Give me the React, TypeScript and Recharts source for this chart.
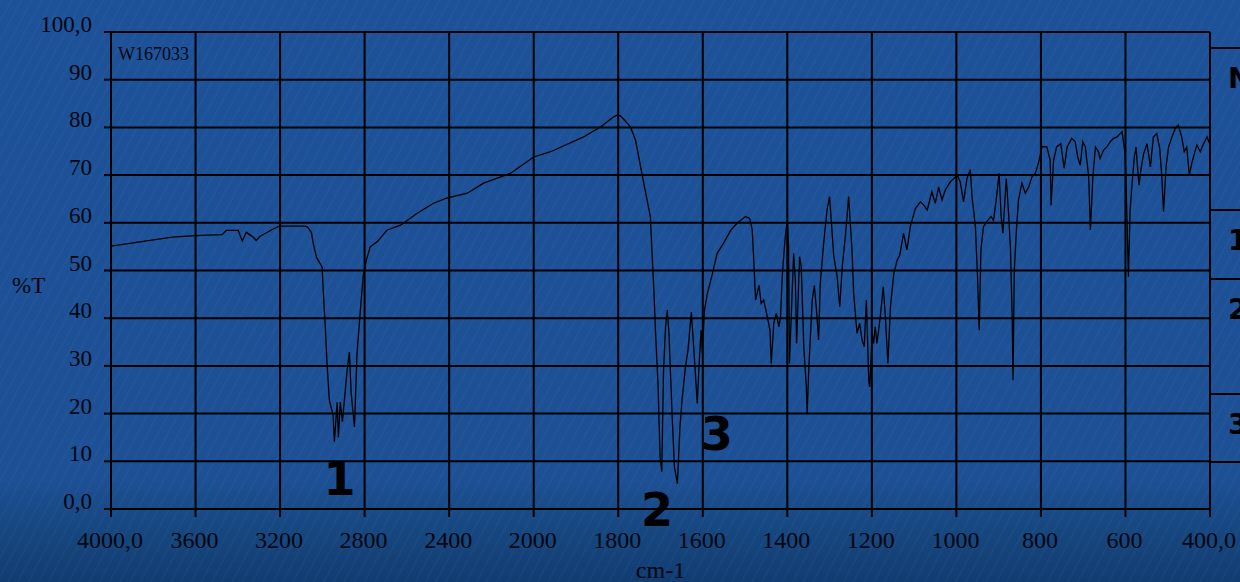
import { LineChart, Line, XAxis, YAxis, CartesianGrid, ReferenceDot } from 'recharts';

// IR spectrum W167033 (wavenumber in cm-1, %T)
const wavenumbers = [
  4000, 3863, 3711, 3602, 3474, 3455, 3398, 3379, 3360, 3327, 3313, 3294, 3237, 3204, 3081, 3070,
  3052, 3043, 3028, 3001, 2995, 2986, 2978, 2967, 2949, 2943, 2930, 2924, 2915, 2905, 2883, 2872,
  2864, 2848, 2836, 2820, 2807, 2792, 2773, 2741, 2693, 2630, 2551, 2474, 2409, 2314, 2237, 2109,
  2000, 1960, 1882, 1842, 1811, 1802, 1794, 1771, 1759, 1747, 1735, 1724, 1720, 1716, 1712, 1706,
  1701, 1697, 1693, 1688, 1684, 1680, 1676, 1672, 1667, 1660, 1654, 1649, 1641, 1635, 1627, 1621,
  1613, 1609, 1604, 1601, 1596, 1589, 1577, 1566, 1551, 1534, 1519, 1499, 1489, 1483, 1479, 1475,
  1467, 1462, 1456, 1449, 1441, 1438, 1432, 1426, 1420, 1416, 1412, 1408, 1404, 1400, 1397, 1395,
  1385, 1381, 1378, 1371, 1367, 1361, 1355, 1353, 1349, 1345, 1341, 1336, 1331, 1326, 1322, 1314,
  1306, 1300, 1290, 1282, 1276, 1270, 1262, 1255, 1247, 1243, 1239, 1235, 1229, 1223, 1218, 1213,
  1207, 1205, 1199, 1196, 1192, 1188, 1180, 1173, 1168, 1162, 1156, 1148, 1140, 1134, 1125, 1117,
  1109, 1097, 1085, 1077, 1069, 1058, 1050, 1042, 1034, 1026, 1014, 1006, 998, 991, 983, 975,
  967, 963, 955, 950, 946, 942, 936, 926, 918, 912, 904, 899, 894, 890, 882, 876,
  872, 868, 866, 863, 858, 853, 845, 837, 829, 821, 813, 806, 797, 786, 778, 776,
  770, 763, 753, 745, 738, 727, 719, 713, 707, 701, 695, 687, 683, 677, 671, 664,
  660, 652, 644, 636, 628, 620, 608, 601, 598, 595, 593, 589, 585, 579, 575, 571,
  568, 563, 557, 549, 541, 534, 526, 519, 514, 510, 504, 498, 490, 482, 475, 467,
  461, 455, 449, 443, 437, 431, 423, 415, 407, 401, 400,
];
const transmittance = [
  55.1, 56.0, 57.0, 57.3, 57.5, 58.4, 58.4, 56.2, 58.0, 57.0, 56.3, 57.2, 58.6, 59.3, 59.3, 59.1,
  58.0, 55.7, 52.8, 50.7, 45.2, 38.1, 30.6, 22.8, 19.7, 14.1, 22.4, 15.0, 22.4, 18.3, 29.0, 32.9,
  24.5, 17.2, 32.6, 41.7, 48.7, 52.2, 55.0, 56.0, 58.5, 59.5, 62.0, 64.1, 65.2, 66.2, 68.3, 70.4,
  73.8, 74.9, 78.0, 80.1, 82.2, 82.6, 82.4, 80.1, 77.3, 71.7, 66.2, 61.3, 53.6, 46.6, 37.5, 26.4,
  10.9, 7.8, 28.5, 38.2, 41.7, 36.8, 27.7, 18.6, 8.8, 5.3, 17.2, 22.8, 29.8, 33.3, 41.3, 33.3,
  22.1, 29.8, 37.5, 32.7, 41.7, 45.2, 49.4, 53.6, 55.7, 58.4, 59.9, 61.3, 60.9, 58.5, 51.5, 43.8,
  46.9, 43.1, 43.8, 41.0, 37.5, 30.5, 38.9, 41.0, 38.2, 40.3, 48.7, 53.6, 57.8, 60.5, 55.0, 30.5,
  53.6, 48.0, 34.7, 52.9, 50.8, 34.0, 25.6, 20.0, 29.8, 36.8, 43.8, 46.9, 41.7, 35.4, 47.3, 55.7,
  62.7, 65.5, 52.9, 48.7, 42.4, 50.8, 57.8, 65.5, 54.3, 45.2, 41.0, 36.8, 38.9, 35.4, 34.0, 43.8,
  26.4, 25.6, 36.8, 34.7, 38.2, 34.7, 40.3, 46.6, 40.3, 30.5, 42.4, 49.4, 52.2, 53.2, 57.8, 54.3,
  59.2, 63.0, 64.4, 63.7, 62.7, 66.5, 64.1, 67.5, 64.8, 66.9, 68.6, 69.3, 70.0, 68.6, 64.4, 69.3,
  71.1, 65.5, 59.2, 48.7, 37.5, 54.3, 59.2, 60.5, 61.3, 60.5, 66.2, 70.4, 61.3, 57.8, 69.3, 61.3,
  54.3, 40.3, 27.0, 50.0, 58.5, 64.8, 68.3, 66.2, 67.5, 69.7, 70.4, 72.5, 76.0, 75.9, 73.1, 63.7,
  73.1, 75.9, 76.6, 71.4, 75.9, 77.7, 77.0, 73.8, 72.1, 77.0, 75.9, 69.7, 58.5, 69.7, 75.9, 74.9,
  73.5, 75.2, 75.9, 77.0, 77.7, 78.0, 79.1, 74.5, 66.2, 55.7, 48.7, 62.7, 67.5, 73.8, 75.9, 71.1,
  67.9, 71.4, 74.5, 76.6, 71.7, 78.0, 78.7, 75.6, 69.7, 62.3, 71.7, 75.9, 78.0, 79.8, 80.5, 78.0,
  74.9, 75.9, 70.0, 72.5, 74.5, 76.3, 74.9, 76.6, 78.0, 76.6, 76.6,
];

const xTicks = [4000, 3600, 3200, 2800, 2400, 2000, 1800, 1600, 1400, 1200, 1000, 800, 600, 400];
const xTickLabels = ['4000,0', '3600', '3200', '2800', '2400', '2000', '1800', '1600', '1400', '1200', '1000', '800', '600', '400,0'];
const yTicks = [0, 10, 20, 30, 40, 50, 60, 70, 80, 90, 100];
const yTickLabels = ['0,0', '10', '20', '30', '40', '50', '60', '70', '80', '90', '100,0'];

// numbered bands marked on the scan
const bandLabels = ['1', '2', '3'];
const bandWavenumbers = [2919, 1708, 1567];
const bandTransmittance = [6.2, -0.3, 15.7];

const tableRows = ['N', '1', '2', '3'];
const tableRowHeights = [164, 71, 117, 70];

// the instrument draws 4000-2000 at half the scale of 2000-400
function axisPos(wn: number) {
  return wn >= 2000 ? (4000 - wn) / 2 : 1000 + (2000 - wn);
}

const chartData = wavenumbers.map((wn, i) => ({ x: axisPos(wn), t: transmittance[i] }));

const serif = "'Liberation Serif', 'Times New Roman', serif";
const ink = '#02060f';

const XTick = ({ x, y, payload }: any) => {
  const i = xTicks.findIndex(wn => axisPos(wn) === payload.value);
  return (
    <text x={x - 1} y={y + 31} textAnchor="middle" fontFamily={serif} fontSize={24} fill={ink}>
      {xTickLabels[i]}
    </text>
  );
};

const YTick = ({ x, y, payload }: any) => {
  const i = yTicks.indexOf(payload.value);
  return (
    <text x={x} y={y} textAnchor="end" fontFamily={serif} fontSize={23} fill={ink}>
      {yTickLabels[i]}
    </text>
  );
};

const App = () => {
  return (
    <div
      style={{
        position: 'absolute',
        left: 0,
        top: 0,
        width: 1240,
        height: 582,
        overflow: 'hidden',
        background:
          'repeating-linear-gradient(118deg, rgba(120,170,230,0.04) 0 2px, rgba(0,0,0,0) 2px 9px),' +
          'linear-gradient(180deg, #1e5298 0%, #1d5095 82%, #17477f 91%, #113c72 100%)',
      }}
    >
      <LineChart width={1240} height={582} data={chartData} margin={{ top: 32, right: 30, left: 0, bottom: 0 }}>
        <CartesianGrid stroke="#000" strokeWidth={2} />
        <XAxis
          type="number"
          dataKey="x"
          domain={[0, 2600]}
          ticks={xTicks.map(axisPos)}
          interval={0}
          height={73}
          tickSize={8}
          tickMargin={0}
          tick={XTick}
          axisLine={{ stroke: '#000', strokeWidth: 2 }}
          tickLine={{ stroke: '#000', strokeWidth: 2 }}
          label={{ value: 'cm-1', position: 'insideBottom', offset: 4, fontSize: 24, fontFamily: serif, fill: ink }}
        />
        <YAxis
          type="number"
          domain={[0, 100]}
          ticks={yTicks}
          interval={0}
          width={111}
          tickSize={7}
          tickMargin={12}
          tick={YTick}
          axisLine={{ stroke: '#000', strokeWidth: 2 }}
          tickLine={{ stroke: '#000', strokeWidth: 2 }}
          label={{ value: '%T', position: 'insideLeft', offset: 12, dy: 14, fontSize: 23, fontFamily: serif, fill: ink }}
        />
        <Line
          type="linear"
          dataKey="t"
          stroke="#000"
          strokeWidth={1.3}
          dot={false}
          isAnimationActive={false}
        />
        {bandLabels.map((lab, i) => (
          <ReferenceDot
            key={lab}
            x={axisPos(bandWavenumbers[i])}
            y={bandTransmittance[i]}
            r={0}
            ifOverflow="visible"
            shape={(p: any) => (
              <text
                x={p.cx}
                y={p.cy}
                textAnchor="middle"
                dominantBaseline="central"
                fontFamily="'DejaVu Sans', Verdana, sans-serif"
                fontWeight="bold"
                fontSize={46}
                fill="#000"
              >
                {lab}
              </text>
            )}
          />
        ))}
      </LineChart>

      <span style={{ position: 'absolute', left: 118, top: 44, fontFamily: serif, fontSize: 18, color: ink }}>
        W167033
      </span>

      <div style={{ position: 'absolute', left: 1209, top: 47, width: 60, borderTop: '2px solid #000', borderLeft: '2px solid #000' }}>
        {tableRows.map((row, i) => (
          <div
            key={row}
            style={{
              height: tableRowHeights[i] - 2,
              borderBottom: '2px solid #000',
              paddingLeft: 17,
              paddingTop: 16,
              boxSizing: 'border-box',
              fontFamily: "'DejaVu Sans', Verdana, sans-serif",
              fontWeight: 'bold',
              fontSize: 28,
              lineHeight: '28px',
              color: '#000',
            }}
          >
            {row}
          </div>
        ))}
      </div>
    </div>
  );
};

export default App;
